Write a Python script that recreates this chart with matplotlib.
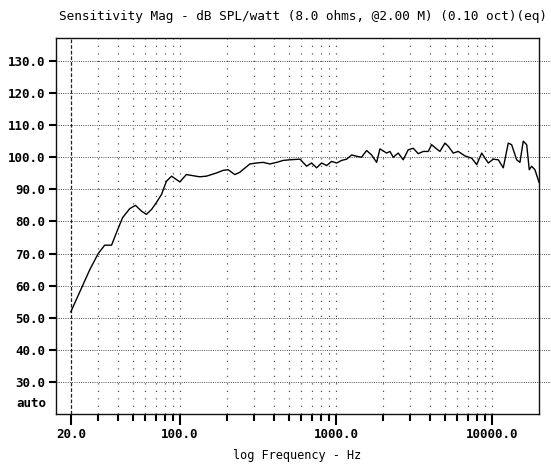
import matplotlib
matplotlib.use("Agg")
import matplotlib.pyplot as plt
import matplotlib.ticker as mticker
import numpy as np

# frequency response
freq = [20, 26.5, 30, 33, 36.5, 40, 43, 47.8, 52, 56.8, 61, 65.8, 70.8, 76.3,
        82, 88.5, 100, 110, 134, 148, 172, 189, 204, 225, 242, 281, 310, 342,
        377, 417, 459, 507, 588, 649, 698, 752, 810, 872, 938, 1010, 1088,
        1171, 1260, 1357, 1460, 1572, 1693, 1823, 1914, 2113, 2218, 2330,
        2508, 2698, 2904, 3128, 3368, 3626, 3904, 4102, 4416, 4638, 4993,
        5245, 5648, 6081, 6713, 7413, 7981, 8591, 9020, 9470, 10190, 10970,
        11810, 12710, 13360, 14390, 15100, 15860, 16680, 17330, 17950, 18840,
        20000]
spl = [51.8, 65.0, 70.0, 72.6, 72.6, 77.5, 81.2, 84.0, 85.0, 83.2, 82.2, 83.7,
       85.9, 88.4, 92.5, 94.1, 92.3, 94.6, 93.9, 94.1, 95.1, 95.9, 96.1, 94.6,
       95.3, 97.9, 98.2, 98.4, 97.9, 98.4, 99.0, 99.2, 99.4, 97.2, 98.2, 96.7,
       98.2, 97.4, 98.7, 98.2, 99.0, 99.4, 100.7, 100.3, 100.0, 102.1, 100.7,
       98.4, 102.6, 101.3, 101.8, 100.0, 101.3, 99.2, 102.3, 102.8, 101.1,
       101.8, 101.8, 103.9, 102.6, 101.8, 104.4, 103.4, 101.3, 101.8, 100.4,
       99.7, 97.7, 101.3, 99.7, 98.2, 99.4, 99.2, 96.7, 104.4, 103.9, 99.2,
       98.4, 105.0, 103.9, 96.1, 97.2, 96.1, 92.2]

yticks = [30, 40, 50, 60, 70, 80, 90, 100, 110, 120, 130]
xmajor = [20, 100, 1000, 10000]
xminor = [30, 40, 50, 60, 70, 80, 90,
          200, 300, 400, 500, 600, 700, 800, 900,
          2000, 3000, 4000, 5000, 6000, 7000, 8000, 9000]

title = "Sensitivity Mag - dB SPL/watt (8.0 ohms, @2.00 M) (0.10 oct)(eq)"
xlabel = "log Frequency - Hz"

fig = plt.figure(figsize=(5.51, 4.72), dpi=100)
ax = fig.add_axes([0.1025, 0.1229, 0.8757, 0.7956])
ax.set_xscale("log")
ax.set_xlim(16.2, 20000)
ax.set_ylim(20, 137)

# grid
for y in yticks:
    ax.axhline(y, xmin=0, xmax=1.03, color="#4a4a4a", lw=0.7,
               ls=(0, (1, 1.3)), clip_on=False, zorder=1)
for x in xminor + xmajor[1:]:
    ax.axvline(x, color="#555555", lw=0.9, ls=(0, (1, 5)), zorder=1)
ax.axvline(xmajor[0], color="#222222", lw=0.9, ls=(0, (3, 1.5)), zorder=1)

ax.plot(freq, spl, color="black", lw=1.0, zorder=3)

tick_font = dict(family="DejaVu Sans Mono", weight="bold", size=9)
ax.set_yticks(yticks)
ax.set_yticklabels([f"{v:.1f}" for v in yticks], fontdict=tick_font)
ax.text(-0.02, 0.01, "auto", transform=ax.transAxes, ha="right", va="bottom",
        **tick_font)
ax.set_xticks(xmajor)
ax.set_xticklabels([f"{v:.1f}" for v in xmajor], fontdict=tick_font)
ax.xaxis.set_minor_locator(mticker.FixedLocator(xminor))
ax.xaxis.set_minor_formatter(mticker.NullFormatter())

ax.tick_params(axis="y", direction="out", length=5, width=1.5, pad=3)
ax.tick_params(axis="x", which="major", direction="out", length=8, width=1.5, pad=2)
ax.tick_params(axis="x", which="minor", direction="out", length=5, width=1.5)

for s in ax.spines.values():
    s.set_linewidth(1.0)
    s.set_color("#111111")

fig.text(0.55, 0.965, title, ha="center", va="center",
         family="DejaVu Sans Mono", size=9.2)
fig.text(0.54, 0.036, xlabel, ha="center", va="center",
         family="DejaVu Sans Mono", size=8.6)

fig.savefig("out.png", dpi=100)
